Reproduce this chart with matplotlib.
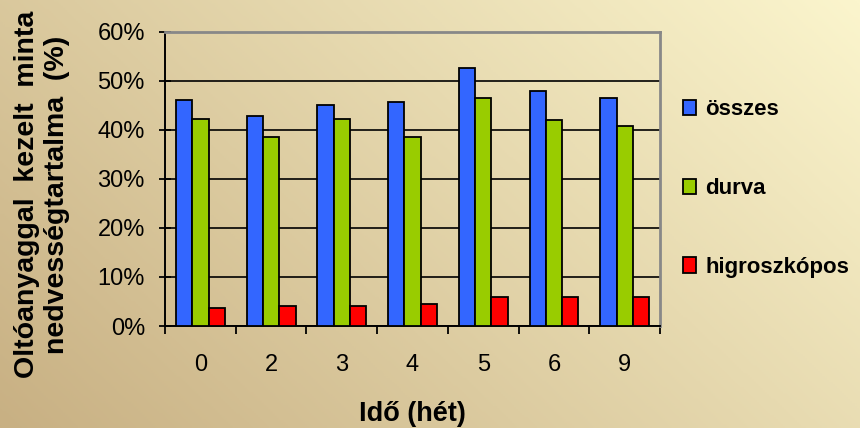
import matplotlib
matplotlib.use("Agg")
import matplotlib.pyplot as plt
import numpy as np
from matplotlib.colors import LinearSegmentedColormap
from matplotlib.ticker import FixedLocator, FuncFormatter

# nedvességtartalom (%) hetenként
hetek = ["0", "2", "3", "4", "5", "6", "9"]
osszes = [46.1, 42.8, 45.1, 45.6, 52.6, 48.0, 46.5]
durva = [42.3, 38.5, 42.3, 38.5, 46.5, 41.9, 40.8]
higroszkopos = [3.6, 4.1, 4.1, 4.5, 6.0, 6.0, 6.0]

sorozatok = [("összes", osszes, "#3366ff"),
             ("durva", durva, "#99cc00"),
             ("higroszkópos", higroszkopos, "#ff0000")]

plt.rcParams["font.family"] = ["Liberation Sans", "DejaVu Sans"]

fig = plt.figure(figsize=(8.6, 4.28), dpi=100)

# háttér színátmenet (bal lent sötétebb, jobb fent világosabb)
bg = fig.add_axes([0, 0, 1, 1], zorder=-10)
gx, gy = np.meshgrid(np.linspace(0, 1, 400), np.linspace(1, 0, 200))
grad = 0.65 * gx + 0.35 * gy
cmap = LinearSegmentedColormap.from_list("bg", ["#c8b083", "#fbf5cd"])
bg.imshow(grad, cmap=cmap, aspect="auto", extent=[0, 1, 0, 1], vmin=0, vmax=1)
bg.axis("off")

ax = fig.add_axes([0.1919, 0.2383, 0.5756, 0.6876])
ax.patch.set_alpha(0)

x = np.arange(len(hetek))
w = 0.23
for i, (nev, vals, szin) in enumerate(sorozatok):
    ax.bar(x + (i - 1) * w, vals, width=w, color=szin, edgecolor="black",
           linewidth=1.3, label=nev, zorder=3)

ax.set_xlim(-0.5, len(hetek) - 0.5)
ax.set_ylim(0, 60)
ax.set_yticks(np.arange(0, 61, 10))
ax.yaxis.set_major_formatter(FuncFormatter(lambda v, p: f"{int(v)}%"))
ax.yaxis.grid(True, color="black", linewidth=1.2, zorder=0)
ax.set_axisbelow(True)

# kategória határokon vannak a beosztások, a feliratok középen
ax.xaxis.set_major_locator(FixedLocator(np.arange(-0.5, len(hetek), 1)))
ax.xaxis.set_minor_locator(FixedLocator(x))
ax.xaxis.set_major_formatter(FuncFormatter(lambda v, p: ""))
ax.set_xticks(x, minor=True)
ax.set_xticklabels(hetek, minor=True)
ax.tick_params(axis="x", which="major", direction="out", length=5.5, width=1.3)
ax.tick_params(axis="x", which="minor", length=0, pad=20, labelsize=17)
ax.tick_params(axis="y", direction="inout", length=9, width=1.3, pad=10,
               labelsize=17)

for s in ("left", "bottom"):
    ax.spines[s].set_color("black")
    ax.spines[s].set_linewidth(1.4)
for s in ("top", "right"):
    ax.spines[s].set_color("#888888")
    ax.spines[s].set_linewidth(2)

ax.set_xlabel("Idő (hét)", fontsize=19.5, fontweight="bold", labelpad=18)
fig.text(0.049, 0.545, "Oltóanyaggal  kezelt  minta\nnedvességtartalma  (%)",
         rotation=90, ha="center", va="center", fontsize=20.5,
         fontweight="bold", multialignment="center", linespacing=1.2)

ax.legend(loc="upper left", bbox_to_anchor=(1.028, 0.80), frameon=False,
          prop={"size": 16, "weight": "bold"}, handlelength=0.6,
          handleheight=0.7, handletextpad=0.4, labelspacing=2.6,
          borderaxespad=0)

fig.savefig("out.png", dpi=100)
